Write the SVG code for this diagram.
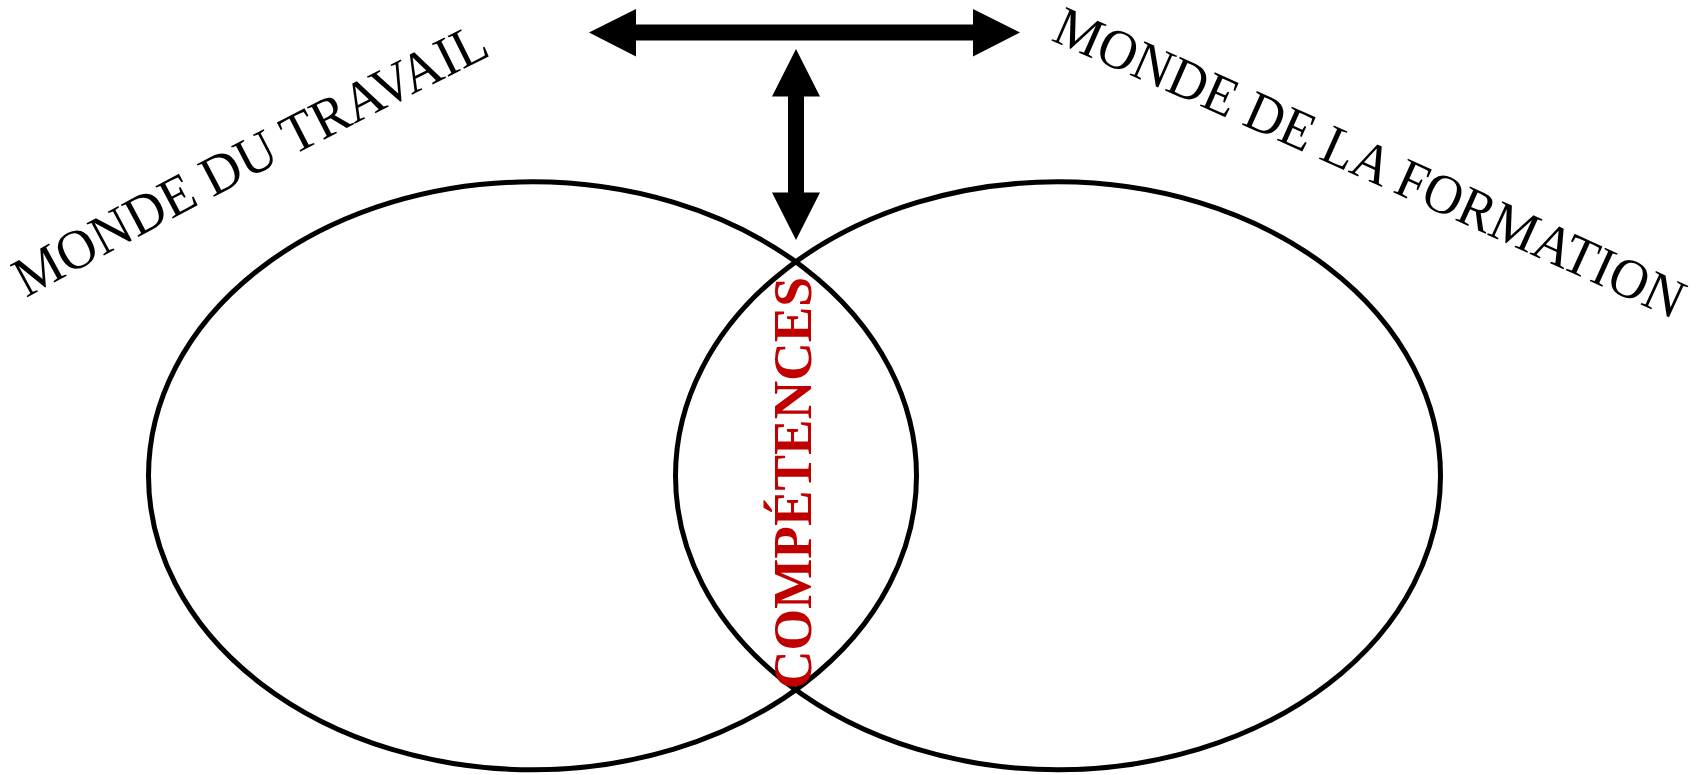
<svg xmlns="http://www.w3.org/2000/svg" xmlns:xlink="http://www.w3.org/1999/xlink" width="1707" height="775" viewBox="0 0 1707 775">
  <style>
    .ell { fill: none; stroke: #000; stroke-width: 5; }
    .arrow { fill: #000; stroke: none; }
    .title { font-family: "Liberation Serif", "Times New Roman", serif; font-size: 56px; fill: #000; }
    .comp { font-family: "Liberation Serif", "Times New Roman", serif; font-size: 54px; font-weight: bold; fill: #C00000; }
  </style>
  <defs>
    <path id="pathLeft" d="M 26 298 Q 262 168 510 46"/>
    <path id="pathRight" d="M 1050 40 Q 1370 180 1690 327"/>
  </defs>
  <rect width="1707" height="775" fill="#fff"/>
  <g id="ellipse-travail">
    <ellipse class="ell" cx="532.5" cy="475.8" rx="384" ry="294"/>
  </g>
  <g id="ellipse-formation">
    <ellipse class="ell" cx="1058" cy="475.8" rx="382.5" ry="294"/>
  </g>
  <g id="connectors">
    <polygon class="arrow" points="589,32.5 636,9 636,24.5 973,24.5 973,9 1020,32.5 973,56.5 973,40.5 636,40.5 636,56.5"/>
    <polygon class="arrow" points="796,49 820,96.5 804,96.5 804,192.5 820,192.5 796,240 772,192.5 788,192.5 788,96.5 772,96.5"/>
  </g>
  <g id="label-travail">
    <text class="title" textLength="526" lengthAdjust="spacingAndGlyphs"><textPath xlink:href="#pathLeft" href="#pathLeft" textLength="526" lengthAdjust="spacingAndGlyphs">MONDE DU TRAVAIL</textPath></text>
  </g>
  <g id="label-formation">
    <text class="title" textLength="684" lengthAdjust="spacingAndGlyphs"><textPath xlink:href="#pathRight" href="#pathRight" textLength="684" lengthAdjust="spacingAndGlyphs">MONDE DE LA FORMATION</textPath></text>
  </g>
  <g id="label-competences">
    <text class="comp" x="0" y="0" text-anchor="middle" textLength="412" lengthAdjust="spacingAndGlyphs" transform="translate(811,483) rotate(-90)">COMPÉTENCES</text>
  </g>
</svg>
